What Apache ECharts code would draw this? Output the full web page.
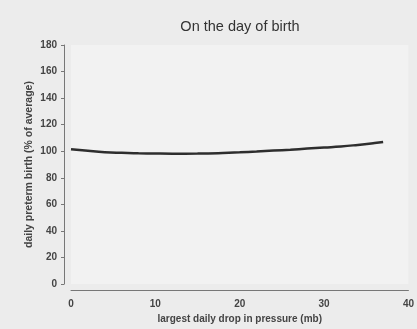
<!DOCTYPE html>
<html><head><meta charset="utf-8">
<script src="https://cdn.jsdelivr.net/npm/echarts@6/dist/echarts.min.js"></script>
<style>html,body{margin:0;padding:0;background:#ececec}#c{width:417px;height:329px}</style>
</head><body><div id="c"></div>
<script>
const pressureDrop = [0, 2, 4, 6, 8, 10, 12, 15, 18, 20, 22, 24, 26, 28, 30, 32, 34, 36, 37];
const pretermPct = [101.5, 100.3, 99.3, 98.8, 98.5, 98.3, 98.2, 98.3, 98.7, 99.2, 99.8, 100.5, 101.2, 102, 102.8, 103.6, 104.8, 106.2, 107];
const yTicks = [0, 20, 40, 60, 80, 100, 120, 140, 160, 180];
const xTicks = [0, 10, 20, 30, 40];
const titleText = 'On the day of birth';
const xName = 'largest daily drop in pressure (mb)';
const yName = 'daily preterm birth (% of average)';

const chart = echarts.init(document.getElementById('c'));
chart.setOption({
  backgroundColor: '#ececec',
  animation: false,
  title: { text: titleText, left: 235, top: 14, textAlign: 'center',
    textStyle: { fontFamily: 'Liberation Sans', fontSize: 14.5, fontWeight: 'normal', color: '#333' } },
  grid: { left: 71, right: 5, top: 45, bottom: 40, show: true, backgroundColor: '#f2f2f2', borderWidth: 0 },
  xAxis: {
    type: 'value', min: xTicks[0], max: xTicks[xTicks.length - 1], interval: 10, offset: 6,
    name: xName, nameLocation: 'middle', nameGap: 22,
    nameTextStyle: { fontFamily: 'Liberation Sans', fontSize: 10, fontWeight: 'bold', color: '#444' },
    axisLine: { onZero: false, lineStyle: { color: '#777', width: 1 } },
    axisTick: { show: false },
    axisLabel: { fontFamily: 'Liberation Sans', fontSize: 10, fontWeight: 'bold', color: '#444', margin: 9 },
    splitLine: { show: false }
  },
  yAxis: {
    type: 'value', min: yTicks[0], max: yTicks[yTicks.length - 1], interval: 20, offset: 7,
    name: yName, nameLocation: 'middle', nameGap: 29, nameRotate: 90, nameMoveOverlap: false,
    nameTextStyle: { fontFamily: 'Liberation Sans', fontSize: 10.5, fontWeight: 'bold', color: '#444' },
    axisLine: { show: true, onZero: false, lineStyle: { color: '#777', width: 1 } },
    axisTick: { show: true, length: 3, lineStyle: { color: '#777' } },
    axisLabel: { fontFamily: 'Liberation Sans', fontSize: 10, fontWeight: 'bold', color: '#444', margin: 7 },
    splitLine: { show: false }
  },
  series: [{
    type: 'line', smooth: true, showSymbol: false,
    data: pressureDrop.map((x, i) => [x, pretermPct[i]]),
    lineStyle: { color: '#2e2e2e', width: 2.5 }
  }]
});
</script></body></html>
